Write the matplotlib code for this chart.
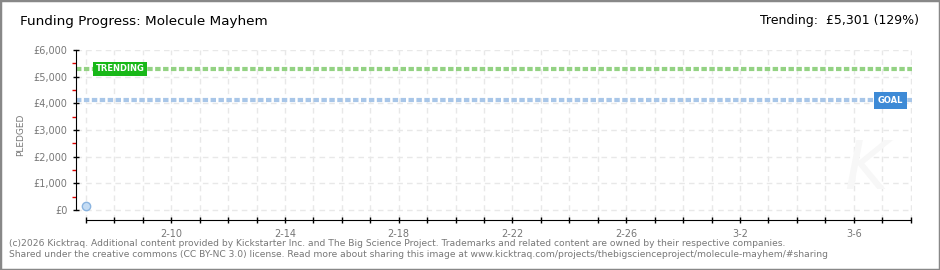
import matplotlib
matplotlib.use("Agg")
import matplotlib.pyplot as plt
import matplotlib.dates as mdates
from matplotlib.patches import Rectangle
from datetime import datetime, timedelta

# data
dates = [datetime(2026, 2, 7)]
pledged = [160]
goal = 4110
trending = 5301
start = datetime(2026, 2, 7)
end = datetime(2026, 3, 8)
y_ticks = [0, 1000, 2000, 3000, 4000, 5000, 6000]
y_labels = ["£0", "£1,000", "£2,000", "£3,000", "£4,000", "£5,000", "£6,000"]

W, H = 940, 270
fig = plt.figure(figsize=(W / 100, H / 100), dpi=100)
fig.patches.append(Rectangle((0, 0), 1, 1, transform=fig.transFigure,
                             fill=False, edgecolor="#888888", linewidth=2.5))

ax = fig.add_axes([76 / W, 1 - 220 / H, (912 - 76) / W, (220 - 50) / H])
ax.set_ylim(-375, 6000)
ax.set_xlim(start - timedelta(days=0.35), end + timedelta(days=0.05))

# grid
days = [start + timedelta(days=i) for i in range((end - start).days + 1)]
ax.set_xticks(days)
ax.set_xticklabels([d.strftime("%-m-%-d") if (d - start).days % 4 == 3 else "" for d in days])
ax.set_yticks(y_ticks)
ax.set_yticklabels(y_labels)
ax.set_yticks([500, 1500, 2500, 3500, 4500, 5500], minor=True)
ax.grid(True, color="#e8e8e8", linestyle=(0, (4, 3)), linewidth=1)

for s in ["top", "right"]:
    ax.spines[s].set_visible(False)
ax.spines["left"].set_bounds(0, 6000)
ax.spines["bottom"].set_bounds(mdates.date2num(start), mdates.date2num(end))
ax.tick_params(axis="both", which="major", direction="inout", length=5, width=1,
               colors="black", labelcolor="#777777", labelsize=7)
ax.tick_params(axis="y", which="minor", direction="out", length=3, width=1,
               color="#dd0000")
ax.tick_params(axis="x", pad=4)
ax.set_ylabel("PLEDGED", color="#777777", fontsize=6.5, labelpad=6)

# trending and goal lines
ax.axhline(trending, color="#93d283", linewidth=3, linestyle=(0, (1.3, 0.6)), zorder=2)
ax.axhline(goal, color="#a8c6e8", linewidth=3, linestyle=(0, (1.3, 0.6)), zorder=2)
ax.text(start + timedelta(days=0.35), trending, "TRENDING", color="white", fontsize=6,
        fontweight="bold", ha="left", va="center", zorder=3,
        bbox=dict(boxstyle="square,pad=0.3", fc="#18b818", ec="none"))
ax.text(end - timedelta(days=0.25), goal, "GOAL", color="white", fontsize=6,
        fontweight="bold", ha="right", va="center", zorder=3,
        bbox=dict(boxstyle="square,pad=0.45", fc="#3d8ad6", ec="none"))

# pledged data
ax.plot(dates, pledged, marker="o", markersize=6, color="#c4dcf4",
        markeredgecolor="#8ab4e0", linestyle="none", clip_on=False, zorder=4)

# watermark
fig.text(866 / W, 1 - 170 / H, "K", fontsize=48, style="italic", color="#f7f7f7",
         ha="center", va="center", zorder=0)

fig.text(20 / W, 1 - 22 / H, "Funding Progress: Molecule Mayhem", fontsize=9.7,
         ha="left", va="center")
fig.text(919 / W, 1 - 21 / H, "Trending:  £5,301 (129%)", fontsize=9,
         ha="right", va="center")

foot = ("(c)2026 Kicktraq. Additional content provided by Kickstarter Inc. and The Big Science Project. "
        "Trademarks and related content are owned by their respective companies.\n"
        "Shared under the creative commons (CC BY-NC 3.0) license. Read more about sharing this image at "
        "www.kicktraq.com/projects/thebigscienceproject/molecule-mayhem/#sharing")
fig.text(9 / W, 1 - 249 / H, foot, fontsize=6.6, color="#777777", ha="left", va="center",
         linespacing=1.3)

fig.savefig("out.png", dpi=100)
